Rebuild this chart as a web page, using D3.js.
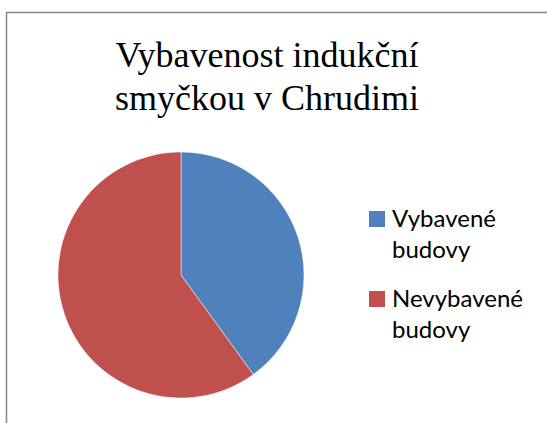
<!DOCTYPE html>
<html>
<head>
<meta charset="utf-8">
<script src="https://cdn.jsdelivr.net/npm/d3@7"></script>
<style>
  body { margin: 0; background: #fff; }
  .title { font-family: "Liberation Serif", "Times New Roman", "DejaVu Serif", serif; }
  .legend-text { font-family: Lato, "Open Sans", sans-serif; }
</style>
</head>
<body>
<script>
// data
const categories = ["Vybavené budovy", "Nevybavené budovy"];
const legendLines = [["Vybavené", "budovy"], ["Nevybavené", "budovy"]];
const values = [40, 60];
const colors = ["#4f81bd", "#c0504d"];
const titleLines = ["Vybavenost indukční", "smyčkou v Chrudimi"];

function main(){
    const width = 547, height = 423;

    const svg = d3.select("body").append("svg")
        .attr("width", width)
        .attr("height", height);

    // chart area border (runs off to the right and bottom)
    svg.append("rect")
        .attr("x", 6.5)
        .attr("y", 12.5)
        .attr("width", 560)
        .attr("height", 440)
        .attr("fill", "#fff")
        .attr("stroke", "#868686")
        .attr("stroke-width", 1.5);

    // title
    svg.append("text")
        .attr("class", "title")
        .attr("x", 267)
        .attr("y", 67)
        .attr("text-anchor", "middle")
        .attr("font-size", "36px")
        .attr("fill", "#000")
        .selectAll("tspan")
        .data(titleLines)
        .join("tspan")
            .attr("x", 267)
            .attr("dy", (d, i) => i === 0 ? 0 : 43)
            .text(d => d);

    // pie
    const radius = 123;
    const g = svg.append("g").attr("transform", "translate(181,275)");
    const pie = d3.pie().sort(null)(values);
    const arc = d3.arc().innerRadius(0).outerRadius(radius);
    const color = d3.scaleOrdinal().domain(categories).range(colors);

    g.selectAll("path")
        .data(pie)
        .join("path")
            .attr("d", arc)
            .attr("fill", (d, i) => color(categories[i]))
            .attr("stroke", "#fff")
            .attr("stroke-width", 0.5);

    // legend
    const legend = svg.append("g").attr("transform", "translate(369,211)");
    const item = legend.selectAll("g")
        .data(categories)
        .join("g")
            .attr("transform", (d, i) => "translate(0," + (i * 80) + ")");

    item.append("rect")
        .attr("width", 16)
        .attr("height", 16)
        .attr("fill", d => color(d));

    item.append("text")
        .attr("class", "legend-text")
        .attr("x", 23)
        .attr("y", 16)
        .attr("font-size", "24px")
        .attr("fill", "#000")
        .selectAll("tspan")
        .data((d, i) => legendLines[i])
        .join("tspan")
            .attr("x", 23)
            .attr("dy", (d, i) => i === 0 ? 0 : 31)
            .text(d => d);
}
main();
</script>
</body>
</html>
